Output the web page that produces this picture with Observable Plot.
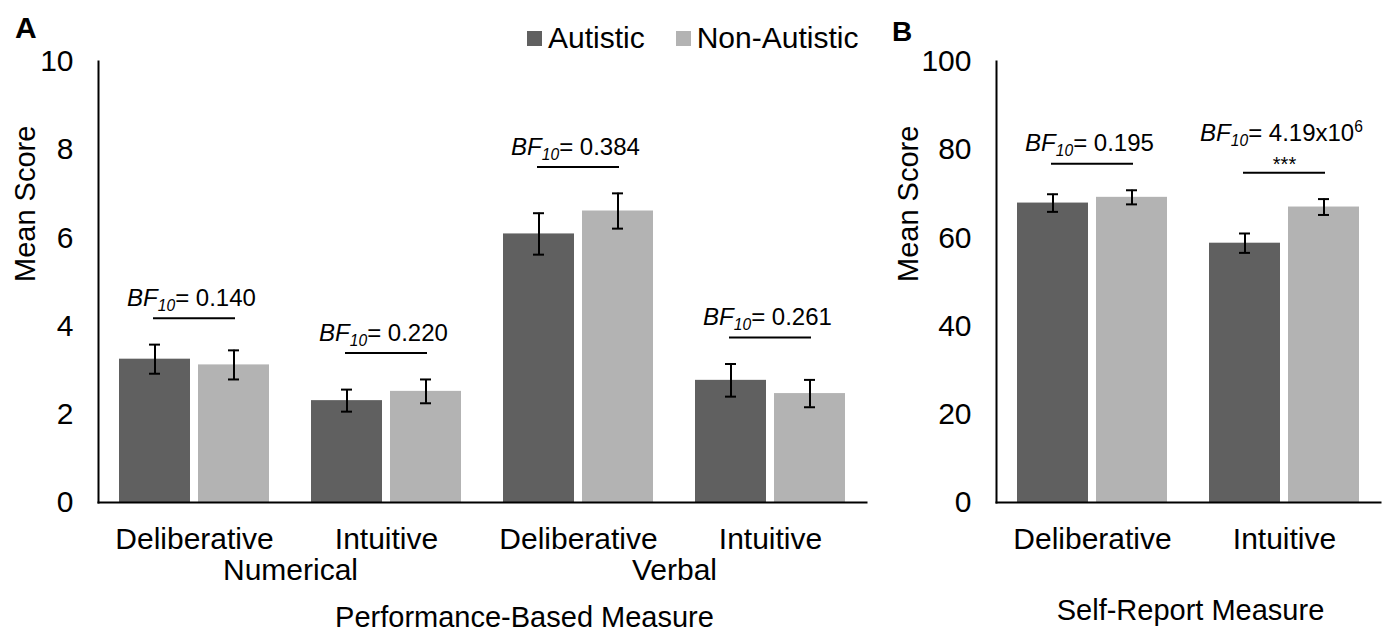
<!DOCTYPE html>
<html>
<head>
<meta charset="utf-8">
<script src="https://cdn.jsdelivr.net/npm/d3@7"></script>
<script src="https://cdn.jsdelivr.net/npm/@observablehq/plot@0.6"></script>
<style>
  html, body { margin: 0; padding: 0; background: #fff; }
  body { font-family: "Liberation Sans", Arial, Helvetica, sans-serif; }
  #wrap { position: relative; width: 1386px; height: 632px; overflow: hidden; background: #fff; }
  #panelA { position: absolute; left: 0; top: 0; }
  #panelB { position: absolute; left: 880px; top: 0; }
  .letter { position: absolute; font-weight: bold; color: #000; line-height: normal; }
  #letterA { left: 15px; top: 11px; font-size: 30px; }
  #letterB { left: 892px; top: 16px; font-size: 28px; }
  #legend { position: absolute; left: 527px; top: 21px; }
  #legend span { margin-right: 31px !important; }
  #legend svg { margin-right: 6px !important; }
</style>
</head>
<body>
<div id="wrap">
  <div id="panelA"></div>
  <div id="panelB"></div>
  <div id="legend"></div>
  <div class="letter" id="letterA">A</div>
  <div class="letter" id="letterB">B</div>
</div>
<script>
// ---------------- data ----------------
const series = ["Autistic", "Non-Autistic"];
const seriesColors = ["#606060", "#b3b3b3"];

// Panel A: performance-based measure
const measureA = ["Numerical", "Numerical", "Verbal", "Verbal"];
const typeA = ["Deliberative", "Intuitive", "Deliberative", "Intuitive"];
const autisticA = [3.25, 2.31, 6.09, 2.77];
const autisticErrA = [0.33, 0.25, 0.47, 0.37];
const nonAutisticA = [3.12, 2.52, 6.61, 2.47];
const nonAutisticErrA = [0.33, 0.27, 0.40, 0.31];
const bfA = ["0.140", "0.220", "0.384", "0.261"];
const starsA = ["", "", "", ""];
const yDomainA = [0, 10];
const yTicksA = [0, 2, 4, 6, 8, 10];

// Panel B: self-report measure
const typeB = ["Deliberative", "Intuitive"];
const autisticB = [67.9, 58.8];
const autisticErrB = [2.0, 2.2];
const nonAutisticB = [69.2, 67.0];
const nonAutisticErrB = [1.6, 1.8];
const bfB = ["0.195", "4.19x10^6"];
const starsB = ["", "***"];
const yDomainB = [0, 100];
const yTicksB = [0, 20, 40, 60, 80, 100];

const FONT = '"Liberation Sans", Arial, Helvetica, sans-serif';

// ---------------- helpers ----------------
function buildRows(keys, a, aErr, n, nErr) {
  const rows = [];
  keys.forEach((k, i) => {
    rows.push({key: k, group: series[0], mean: a[i], err: aErr[i]});
    rows.push({key: k, group: series[1], mean: n[i], err: nErr[i]});
  });
  return rows;
}
function buildAnn(keys, rows, bf, stars, yMax) {
  return keys.map((k, i) => {
    const top = d3.max(rows.filter(r => r.key === k), r => r.mean + r.err);
    return {key: k, bracket: top + 0.06 * yMax, bf: "BF" + bf[i], stars: stars[i]};
  });
}
function richBF(svg) {
  d3.select(svg).selectAll("text").each(function () {
    const t = this.textContent;
    if (!t.startsWith("BF")) return;
    let rest = t.slice(2);
    let sup = null;
    if (rest.includes("^")) { const p = rest.split("^"); rest = p[0]; sup = p[1]; }
    const sel = d3.select(this);
    sel.text(null);
    sel.append("tspan").attr("font-style", "italic").text("BF");
    sel.append("tspan").attr("font-style", "italic").attr("font-size", "0.65em").attr("dy", "5").text("10");
    sel.append("tspan").attr("dy", "-5").text("= " + rest);
    if (sup) sel.append("tspan").attr("font-size", "0.65em").attr("dy", "-9").text(sup);
  });
}

function panel({keys, rows, ann, yDomain, yTicks, width, marginLeft, marginRight, tickFormat, titleText, titleDx, titleDy, ylabDx, extraMarks}) {
  const svg = Plot.plot({
    width, height: 632,
    marginLeft, marginRight, marginTop: 61, marginBottom: 130,
    style: {fontFamily: FONT, fontSize: "30px", color: "#000", background: "transparent", overflow: "visible"},
    fx: {domain: keys, padding: 0, axis: "bottom", tickSize: 0, tickPadding: 25, tickFormat, label: null},
    x: {domain: series, axis: null, paddingInner: 0.1, paddingOuter: 0.255},
    y: {domain: yDomain, ticks: yTicks, tickSize: 0, tickPadding: 25, label: null},
    color: {domain: series, range: seriesColors},
    marks: [
      Plot.barY(rows, {fx: "key", x: "group", y: "mean", fill: "group"}),
      Plot.ruleX(rows, {fx: "key", x: "group", y1: d => d.mean - d.err, y2: d => d.mean + d.err, stroke: "#000", strokeWidth: 2}),
      Plot.tickY(rows, {fx: "key", x: "group", y: d => d.mean + d.err, stroke: "#000", strokeWidth: 2, inset: 30}),
      Plot.tickY(rows, {fx: "key", x: "group", y: d => d.mean - d.err, stroke: "#000", strokeWidth: 2, inset: 30}),
      Plot.ruleY(ann, {fx: "key", y: "bracket", inset: 55, stroke: "#000", strokeWidth: 2}),
      Plot.text(ann.filter(d => !d.stars), {fx: "key", y: "bracket", text: "bf", dx: -3, dy: -20, fontSize: 24, lineAnchor: "middle"}),
      Plot.text(ann.filter(d => d.stars), {fx: "key", y: "bracket", text: "bf", dx: -3, dy: -39, fontSize: 24, lineAnchor: "middle"}),
      Plot.text(ann.filter(d => d.stars), {fx: "key", y: "bracket", text: "stars", dy: -8, fontSize: 20, lineAnchor: "middle"}),
      Plot.frame({anchor: "left", facet: "super", stroke: "#000", strokeWidth: 2}),
      Plot.frame({anchor: "bottom", facet: "super", stroke: "#000", strokeWidth: 2}),
      Plot.text([titleText], {facet: "super", frameAnchor: "bottom", dx: titleDx, dy: titleDy, fontSize: 29, lineAnchor: "middle"}),
      Plot.text(["Mean Score"], {facet: "super", frameAnchor: "left", rotate: -90, dx: ylabDx, fontSize: 29, lineAnchor: "middle"}),
      ...(extraMarks || [])
    ]
  });
  richBF(svg);
  return svg;
}

// ---------------- panel A ----------------
const keysA = measureA.map((m, i) => m + "|" + typeA[i]);
const rowsA = buildRows(keysA, autisticA, autisticErrA, nonAutisticA, nonAutisticErrA);
const annA = buildAnn(keysA, rowsA, bfA, starsA, yDomainA[1]);
const measureLabels = Array.from(new Set(measureA)).map(m => ({key: keysA[measureA.indexOf(m)], label: m}));

const svgA = panel({
  keys: keysA, rows: rowsA, ann: annA, yDomain: yDomainA, yTicks: yTicksA,
  width: 880, marginLeft: 96, marginRight: 13,
  tickFormat: k => k.split("|")[1],
  titleText: "Performance-Based Measure", titleDx: 42, titleDy: 115, ylabDx: -73,
  extraMarks: [
    Plot.text(measureLabels, {fx: "key", text: "label", frameAnchor: "bottom-right", dy: 68, fontSize: 30, lineAnchor: "middle", textAnchor: "middle"})
  ]
});
document.getElementById("panelA").appendChild(svgA);

// ---------------- panel B ----------------
const rowsB = buildRows(typeB, autisticB, autisticErrB, nonAutisticB, nonAutisticErrB);
const annB = buildAnn(typeB, rowsB, bfB, starsB, yDomainB[1]);
const svgB = panel({
  keys: typeB, rows: rowsB, ann: annB, yDomain: yDomainB, yTicks: yTicksB,
  width: 506, marginLeft: 115, marginRight: 6,
  tickFormat: k => k,
  titleText: "Self-Report Measure", titleDx: 2, titleDy: 108, ylabDx: -88
});
document.getElementById("panelB").appendChild(svgB);

// ---------------- legend ----------------
const legend = Plot.legend({
  color: {domain: series, range: seriesColors},
  swatchSize: 15,
  style: {fontSize: "30px", fontFamily: FONT, color: "#000"}
});
document.getElementById("legend").appendChild(legend);
</script>
</body>
</html>
